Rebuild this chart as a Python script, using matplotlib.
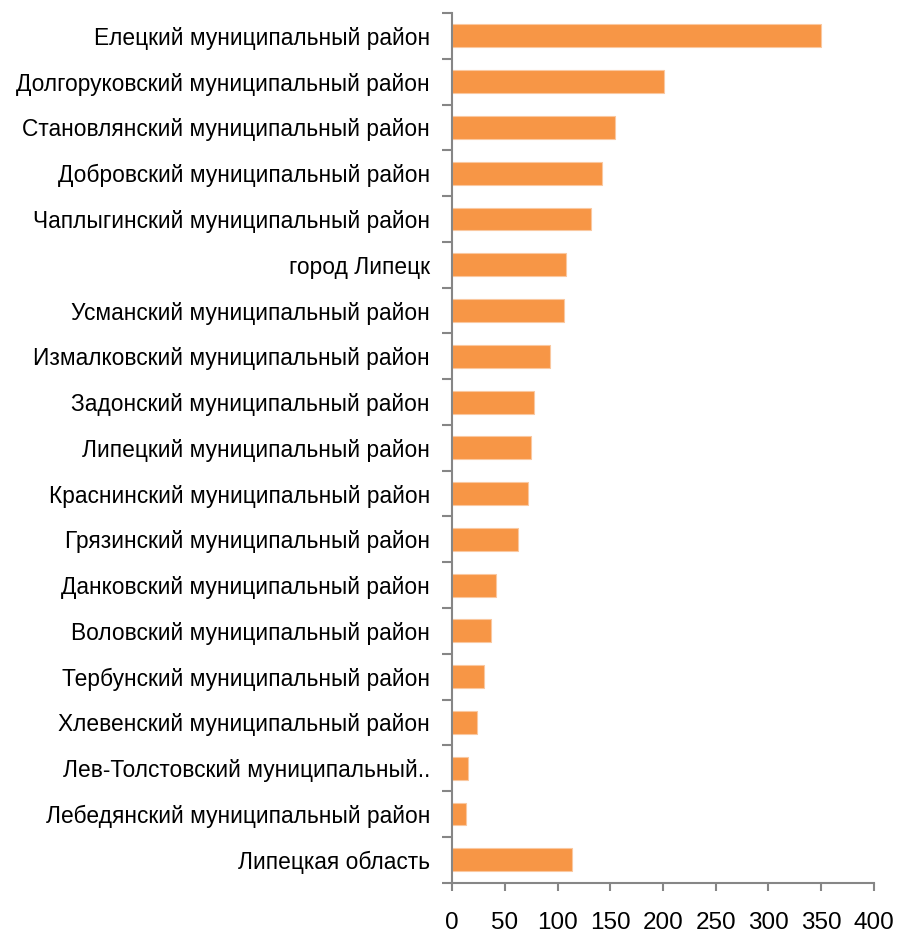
import matplotlib
matplotlib.use("Agg")
import matplotlib.pyplot as plt

plt.rcParams['font.family'] = ['Liberation Sans', 'DejaVu Sans']

districts = [
    "Елецкий муниципальный район",
    "Долгоруковский муниципальный район",
    "Становлянский муниципальный район",
    "Добровский муниципальный район",
    "Чаплыгинский муниципальный район",
    "город Липецк",
    "Усманский муниципальный район",
    "Измалковский муниципальный район",
    "Задонский муниципальный район",
    "Липецкий муниципальный район",
    "Краснинский муниципальный район",
    "Грязинский муниципальный район",
    "Данковский муниципальный район",
    "Воловский муниципальный район",
    "Тербунский муниципальный район",
    "Хлевенский муниципальный район",
    "Лев-Толстовский муниципальный..",
    "Лебедянский муниципальный район",
    "Липецкая область",
]
values = [350, 201, 154, 142, 132, 108, 106, 93, 78, 75, 72, 62, 42, 37, 30, 24, 15, 13, 114]
x_ticks = [0, 50, 100, 150, 200, 250, 300, 350, 400]

fig = plt.figure(figsize=(8.99, 9.32), dpi=100)
ax = fig.add_axes([0.503, 0.053, 0.469, 0.933])

pos = list(range(len(districts)))
ax.barh(pos, values, height=0.5, color='#F79646', edgecolor='#FAC8A0', linewidth=0.8)

ax.set_ylim(len(districts) - 0.5, -0.5)
ax.set_xlim(0, 400)
ax.set_xticks(x_ticks)
ax.set_xticklabels([str(t) for t in x_ticks], fontsize=17.5)

# category boundary ticks, labels in the middle
ax.set_yticks([p - 0.5 for p in pos] + [len(districts) - 0.5])
ax.set_yticklabels([])
ax.set_yticks(pos, minor=True)
ax.set_yticklabels(districts, minor=True, fontsize=16.4)
ax.tick_params(axis='y', which='minor', length=0, pad=16)
ax.tick_params(axis='y', which='major', length=7, width=1.5, color='#868686')
ax.tick_params(axis='x', length=6, width=1.5, color='#868686', pad=15)

for side in ['top', 'right']:
    ax.spines[side].set_visible(False)
for side in ['left', 'bottom']:
    ax.spines[side].set_color('#868686')
    ax.spines[side].set_linewidth(1.5)

plt.savefig('out.png', dpi=100)
